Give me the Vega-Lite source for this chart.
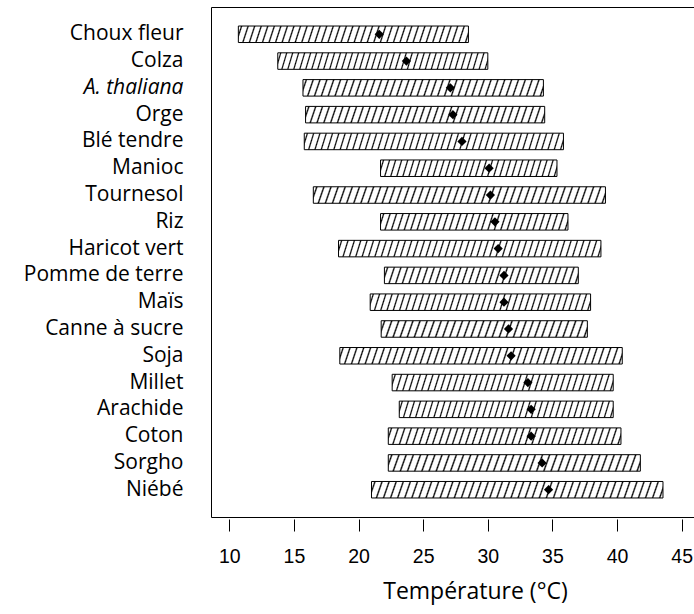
{
  "$schema": "https://vega.github.io/schema/vega-lite/v6.json",
  "width": 484,
  "height": 510,
  "autosize": "none",
  "padding": {"left": 211, "top": 7, "right": 0, "bottom": 97},
  "background": "white",
  "config": {"view": {"stroke": "black", "strokeWidth": 1}},
  "data": {"values": [
    {"crop": "Choux fleur", "lo": 10.7, "hi": 28.5, "mid": 21.6},
    {"crop": "Colza", "lo": 13.75, "hi": 30.0, "mid": 23.7},
    {"crop": "A. thaliana", "lo": 15.7, "hi": 34.3, "mid": 27.1},
    {"crop": "Orge", "lo": 15.9, "hi": 34.4, "mid": 27.3},
    {"crop": "Blé tendre", "lo": 15.8, "hi": 35.85, "mid": 28.0},
    {"crop": "Manioc", "lo": 21.7, "hi": 35.35, "mid": 30.1},
    {"crop": "Tournesol", "lo": 16.5, "hi": 39.1, "mid": 30.2},
    {"crop": "Riz", "lo": 21.7, "hi": 36.2, "mid": 30.55},
    {"crop": "Haricot vert", "lo": 18.45, "hi": 38.75, "mid": 30.8},
    {"crop": "Pomme de terre", "lo": 22.0, "hi": 37.0, "mid": 31.25},
    {"crop": "Maïs", "lo": 20.9, "hi": 37.95, "mid": 31.25},
    {"crop": "Canne à sucre", "lo": 21.75, "hi": 37.7, "mid": 31.6},
    {"crop": "Soja", "lo": 18.55, "hi": 40.4, "mid": 31.8},
    {"crop": "Millet", "lo": 22.6, "hi": 39.7, "mid": 33.1},
    {"crop": "Arachide", "lo": 23.15, "hi": 39.7, "mid": 33.35},
    {"crop": "Coton", "lo": 22.3, "hi": 40.3, "mid": 33.35},
    {"crop": "Sorgho", "lo": 22.3, "hi": 41.8, "mid": 34.2},
    {"crop": "Niébé", "lo": 21.0, "hi": 43.55, "mid": 34.7}
  ]},
  "encoding": {
    "y": {
      "field": "crop", "type": "nominal", "sort": null,
      "scale": {"paddingInner": 0.384, "paddingOuter": 0.71},
      "axis": {
        "title": null, "domain": false, "ticks": false, "tickSize": 0,
        "labelPadding": 28, "labelFont": "Open Sans", "labelFontSize": 21,
        "labelColor": "black", "labelLimit": 300,
        "labelFontStyle": {"condition": {"test": "datum.value === 'A. thaliana'", "value": "italic"}, "value": "normal"}
      }
    }
  },
  "layer": [
    {
      "mark": {"type": "bar", "stroke": "black", "strokeWidth": 1},
      "encoding": {
        "x": {
          "field": "lo", "type": "quantitative",
          "scale": {"domain": [8.584, 46.028], "nice": false, "zero": false},
          "axis": {
            "title": "Température (°C)", "values": [10, 15, 20, 25, 30, 35, 40, 45],
            "domain": false, "grid": false, "offset": 2,
            "tickSize": 12, "tickColor": "black", "tickWidth": 1,
            "labelFont": "Liberation Sans", "labelFontSize": 19.5, "labelColor": "black",
            "labelPadding": 16, "labelFlush": false, "labelOverlap": false,
            "titleFont": "Open Sans", "titleFontSize": 23, "titleFontWeight": "normal",
            "titleColor": "black", "titleX": 264, "titleY": 79,
            "titleBaseline": "alphabetic", "titleAlign": "center", "titleAnchor": null
          }
        },
        "x2": {"field": "hi"},
        "fill": {
          "condition": [
            {"test": "datum.hi - datum.lo < 16.1", "value": {"gradient": "linear", "x1": 0, "y1": 0, "x2": 1.029, "y2": 0.029, "stops": [
              {"offset": 0.0099, "color": "#fff"}, {"offset": 0.0167, "color": "#000"}, {"offset": 0.0235, "color": "#fff"},
              {"offset": 0.0432, "color": "#fff"}, {"offset": 0.0500, "color": "#000"}, {"offset": 0.0568, "color": "#fff"},
              {"offset": 0.0765, "color": "#fff"}, {"offset": 0.0833, "color": "#000"}, {"offset": 0.0901, "color": "#fff"},
              {"offset": 0.1099, "color": "#fff"}, {"offset": 0.1167, "color": "#000"}, {"offset": 0.1235, "color": "#fff"},
              {"offset": 0.1432, "color": "#fff"}, {"offset": 0.1500, "color": "#000"}, {"offset": 0.1568, "color": "#fff"},
              {"offset": 0.1765, "color": "#fff"}, {"offset": 0.1833, "color": "#000"}, {"offset": 0.1901, "color": "#fff"},
              {"offset": 0.2099, "color": "#fff"}, {"offset": 0.2167, "color": "#000"}, {"offset": 0.2235, "color": "#fff"},
              {"offset": 0.2432, "color": "#fff"}, {"offset": 0.2500, "color": "#000"}, {"offset": 0.2568, "color": "#fff"},
              {"offset": 0.2765, "color": "#fff"}, {"offset": 0.2833, "color": "#000"}, {"offset": 0.2901, "color": "#fff"},
              {"offset": 0.3099, "color": "#fff"}, {"offset": 0.3167, "color": "#000"}, {"offset": 0.3235, "color": "#fff"},
              {"offset": 0.3432, "color": "#fff"}, {"offset": 0.3500, "color": "#000"}, {"offset": 0.3568, "color": "#fff"},
              {"offset": 0.3765, "color": "#fff"}, {"offset": 0.3833, "color": "#000"}, {"offset": 0.3901, "color": "#fff"},
              {"offset": 0.4099, "color": "#fff"}, {"offset": 0.4167, "color": "#000"}, {"offset": 0.4235, "color": "#fff"},
              {"offset": 0.4432, "color": "#fff"}, {"offset": 0.4500, "color": "#000"}, {"offset": 0.4568, "color": "#fff"},
              {"offset": 0.4765, "color": "#fff"}, {"offset": 0.4833, "color": "#000"}, {"offset": 0.4901, "color": "#fff"},
              {"offset": 0.5099, "color": "#fff"}, {"offset": 0.5167, "color": "#000"}, {"offset": 0.5235, "color": "#fff"},
              {"offset": 0.5432, "color": "#fff"}, {"offset": 0.5500, "color": "#000"}, {"offset": 0.5568, "color": "#fff"},
              {"offset": 0.5765, "color": "#fff"}, {"offset": 0.5833, "color": "#000"}, {"offset": 0.5901, "color": "#fff"},
              {"offset": 0.6099, "color": "#fff"}, {"offset": 0.6167, "color": "#000"}, {"offset": 0.6235, "color": "#fff"},
              {"offset": 0.6432, "color": "#fff"}, {"offset": 0.6500, "color": "#000"}, {"offset": 0.6568, "color": "#fff"},
              {"offset": 0.6765, "color": "#fff"}, {"offset": 0.6833, "color": "#000"}, {"offset": 0.6901, "color": "#fff"},
              {"offset": 0.7099, "color": "#fff"}, {"offset": 0.7167, "color": "#000"}, {"offset": 0.7235, "color": "#fff"},
              {"offset": 0.7432, "color": "#fff"}, {"offset": 0.7500, "color": "#000"}, {"offset": 0.7568, "color": "#fff"},
              {"offset": 0.7765, "color": "#fff"}, {"offset": 0.7833, "color": "#000"}, {"offset": 0.7901, "color": "#fff"},
              {"offset": 0.8099, "color": "#fff"}, {"offset": 0.8167, "color": "#000"}, {"offset": 0.8235, "color": "#fff"},
              {"offset": 0.8432, "color": "#fff"}, {"offset": 0.8500, "color": "#000"}, {"offset": 0.8568, "color": "#fff"},
              {"offset": 0.8765, "color": "#fff"}, {"offset": 0.8833, "color": "#000"}, {"offset": 0.8901, "color": "#fff"},
              {"offset": 0.9099, "color": "#fff"}, {"offset": 0.9167, "color": "#000"}, {"offset": 0.9235, "color": "#fff"},
              {"offset": 0.9432, "color": "#fff"}, {"offset": 0.9500, "color": "#000"}, {"offset": 0.9568, "color": "#fff"},
              {"offset": 0.9765, "color": "#fff"}, {"offset": 0.9833, "color": "#000"}, {"offset": 0.9901, "color": "#fff"}
            ]}},
            {"test": "datum.hi - datum.lo > 19.6", "value": {"gradient": "linear", "x1": 0, "y1": 0, "x2": 1.02, "y2": 0.02, "stops": [
              {"offset": 0.0072, "color": "#fff"}, {"offset": 0.0119, "color": "#000"}, {"offset": 0.0166, "color": "#fff"},
              {"offset": 0.0310, "color": "#fff"}, {"offset": 0.0357, "color": "#000"}, {"offset": 0.0404, "color": "#fff"},
              {"offset": 0.0548, "color": "#fff"}, {"offset": 0.0595, "color": "#000"}, {"offset": 0.0642, "color": "#fff"},
              {"offset": 0.0786, "color": "#fff"}, {"offset": 0.0833, "color": "#000"}, {"offset": 0.0880, "color": "#fff"},
              {"offset": 0.1024, "color": "#fff"}, {"offset": 0.1071, "color": "#000"}, {"offset": 0.1118, "color": "#fff"},
              {"offset": 0.1262, "color": "#fff"}, {"offset": 0.1310, "color": "#000"}, {"offset": 0.1356, "color": "#fff"},
              {"offset": 0.1501, "color": "#fff"}, {"offset": 0.1548, "color": "#000"}, {"offset": 0.1595, "color": "#fff"},
              {"offset": 0.1739, "color": "#fff"}, {"offset": 0.1786, "color": "#000"}, {"offset": 0.1833, "color": "#fff"},
              {"offset": 0.1977, "color": "#fff"}, {"offset": 0.2024, "color": "#000"}, {"offset": 0.2071, "color": "#fff"},
              {"offset": 0.2215, "color": "#fff"}, {"offset": 0.2262, "color": "#000"}, {"offset": 0.2309, "color": "#fff"},
              {"offset": 0.2453, "color": "#fff"}, {"offset": 0.2500, "color": "#000"}, {"offset": 0.2547, "color": "#fff"},
              {"offset": 0.2691, "color": "#fff"}, {"offset": 0.2738, "color": "#000"}, {"offset": 0.2785, "color": "#fff"},
              {"offset": 0.2929, "color": "#fff"}, {"offset": 0.2976, "color": "#000"}, {"offset": 0.3023, "color": "#fff"},
              {"offset": 0.3167, "color": "#fff"}, {"offset": 0.3214, "color": "#000"}, {"offset": 0.3261, "color": "#fff"},
              {"offset": 0.3405, "color": "#fff"}, {"offset": 0.3452, "color": "#000"}, {"offset": 0.3499, "color": "#fff"},
              {"offset": 0.3644, "color": "#fff"}, {"offset": 0.3690, "color": "#000"}, {"offset": 0.3738, "color": "#fff"},
              {"offset": 0.3882, "color": "#fff"}, {"offset": 0.3929, "color": "#000"}, {"offset": 0.3976, "color": "#fff"},
              {"offset": 0.4120, "color": "#fff"}, {"offset": 0.4167, "color": "#000"}, {"offset": 0.4214, "color": "#fff"},
              {"offset": 0.4358, "color": "#fff"}, {"offset": 0.4405, "color": "#000"}, {"offset": 0.4452, "color": "#fff"},
              {"offset": 0.4596, "color": "#fff"}, {"offset": 0.4643, "color": "#000"}, {"offset": 0.4690, "color": "#fff"},
              {"offset": 0.4834, "color": "#fff"}, {"offset": 0.4881, "color": "#000"}, {"offset": 0.4928, "color": "#fff"},
              {"offset": 0.5072, "color": "#fff"}, {"offset": 0.5119, "color": "#000"}, {"offset": 0.5166, "color": "#fff"},
              {"offset": 0.5310, "color": "#fff"}, {"offset": 0.5357, "color": "#000"}, {"offset": 0.5404, "color": "#fff"},
              {"offset": 0.5548, "color": "#fff"}, {"offset": 0.5595, "color": "#000"}, {"offset": 0.5642, "color": "#fff"},
              {"offset": 0.5786, "color": "#fff"}, {"offset": 0.5833, "color": "#000"}, {"offset": 0.5880, "color": "#fff"},
              {"offset": 0.6024, "color": "#fff"}, {"offset": 0.6071, "color": "#000"}, {"offset": 0.6118, "color": "#fff"},
              {"offset": 0.6262, "color": "#fff"}, {"offset": 0.6310, "color": "#000"}, {"offset": 0.6356, "color": "#fff"},
              {"offset": 0.6501, "color": "#fff"}, {"offset": 0.6548, "color": "#000"}, {"offset": 0.6595, "color": "#fff"},
              {"offset": 0.6739, "color": "#fff"}, {"offset": 0.6786, "color": "#000"}, {"offset": 0.6833, "color": "#fff"},
              {"offset": 0.6977, "color": "#fff"}, {"offset": 0.7024, "color": "#000"}, {"offset": 0.7071, "color": "#fff"},
              {"offset": 0.7215, "color": "#fff"}, {"offset": 0.7262, "color": "#000"}, {"offset": 0.7309, "color": "#fff"},
              {"offset": 0.7453, "color": "#fff"}, {"offset": 0.7500, "color": "#000"}, {"offset": 0.7547, "color": "#fff"},
              {"offset": 0.7691, "color": "#fff"}, {"offset": 0.7738, "color": "#000"}, {"offset": 0.7785, "color": "#fff"},
              {"offset": 0.7929, "color": "#fff"}, {"offset": 0.7976, "color": "#000"}, {"offset": 0.8023, "color": "#fff"},
              {"offset": 0.8167, "color": "#fff"}, {"offset": 0.8214, "color": "#000"}, {"offset": 0.8261, "color": "#fff"},
              {"offset": 0.8405, "color": "#fff"}, {"offset": 0.8452, "color": "#000"}, {"offset": 0.8499, "color": "#fff"},
              {"offset": 0.8644, "color": "#fff"}, {"offset": 0.8690, "color": "#000"}, {"offset": 0.8738, "color": "#fff"},
              {"offset": 0.8882, "color": "#fff"}, {"offset": 0.8929, "color": "#000"}, {"offset": 0.8976, "color": "#fff"},
              {"offset": 0.9120, "color": "#fff"}, {"offset": 0.9167, "color": "#000"}, {"offset": 0.9214, "color": "#fff"},
              {"offset": 0.9358, "color": "#fff"}, {"offset": 0.9405, "color": "#000"}, {"offset": 0.9452, "color": "#fff"},
              {"offset": 0.9596, "color": "#fff"}, {"offset": 0.9643, "color": "#000"}, {"offset": 0.9690, "color": "#fff"},
              {"offset": 0.9834, "color": "#fff"}, {"offset": 0.9881, "color": "#000"}, {"offset": 0.9928, "color": "#fff"}
            ]}}
          ],
          "value": {"gradient": "linear", "x1": 0, "y1": 0, "x2": 1.024, "y2": 0.024, "stops": [
            {"offset": 0.0083, "color": "#fff"}, {"offset": 0.0139, "color": "#000"}, {"offset": 0.0195, "color": "#fff"},
            {"offset": 0.0361, "color": "#fff"}, {"offset": 0.0417, "color": "#000"}, {"offset": 0.0473, "color": "#fff"},
            {"offset": 0.0638, "color": "#fff"}, {"offset": 0.0694, "color": "#000"}, {"offset": 0.0750, "color": "#fff"},
            {"offset": 0.0916, "color": "#fff"}, {"offset": 0.0972, "color": "#000"}, {"offset": 0.1028, "color": "#fff"},
            {"offset": 0.1194, "color": "#fff"}, {"offset": 0.1250, "color": "#000"}, {"offset": 0.1306, "color": "#fff"},
            {"offset": 0.1472, "color": "#fff"}, {"offset": 0.1528, "color": "#000"}, {"offset": 0.1584, "color": "#fff"},
            {"offset": 0.1750, "color": "#fff"}, {"offset": 0.1806, "color": "#000"}, {"offset": 0.1862, "color": "#fff"},
            {"offset": 0.2027, "color": "#fff"}, {"offset": 0.2083, "color": "#000"}, {"offset": 0.2139, "color": "#fff"},
            {"offset": 0.2305, "color": "#fff"}, {"offset": 0.2361, "color": "#000"}, {"offset": 0.2417, "color": "#fff"},
            {"offset": 0.2583, "color": "#fff"}, {"offset": 0.2639, "color": "#000"}, {"offset": 0.2695, "color": "#fff"},
            {"offset": 0.2861, "color": "#fff"}, {"offset": 0.2917, "color": "#000"}, {"offset": 0.2973, "color": "#fff"},
            {"offset": 0.3138, "color": "#fff"}, {"offset": 0.3194, "color": "#000"}, {"offset": 0.3250, "color": "#fff"},
            {"offset": 0.3416, "color": "#fff"}, {"offset": 0.3472, "color": "#000"}, {"offset": 0.3528, "color": "#fff"},
            {"offset": 0.3694, "color": "#fff"}, {"offset": 0.3750, "color": "#000"}, {"offset": 0.3806, "color": "#fff"},
            {"offset": 0.3972, "color": "#fff"}, {"offset": 0.4028, "color": "#000"}, {"offset": 0.4084, "color": "#fff"},
            {"offset": 0.4250, "color": "#fff"}, {"offset": 0.4306, "color": "#000"}, {"offset": 0.4362, "color": "#fff"},
            {"offset": 0.4527, "color": "#fff"}, {"offset": 0.4583, "color": "#000"}, {"offset": 0.4639, "color": "#fff"},
            {"offset": 0.4805, "color": "#fff"}, {"offset": 0.4861, "color": "#000"}, {"offset": 0.4917, "color": "#fff"},
            {"offset": 0.5083, "color": "#fff"}, {"offset": 0.5139, "color": "#000"}, {"offset": 0.5195, "color": "#fff"},
            {"offset": 0.5361, "color": "#fff"}, {"offset": 0.5417, "color": "#000"}, {"offset": 0.5473, "color": "#fff"},
            {"offset": 0.5638, "color": "#fff"}, {"offset": 0.5694, "color": "#000"}, {"offset": 0.5750, "color": "#fff"},
            {"offset": 0.5916, "color": "#fff"}, {"offset": 0.5972, "color": "#000"}, {"offset": 0.6028, "color": "#fff"},
            {"offset": 0.6194, "color": "#fff"}, {"offset": 0.6250, "color": "#000"}, {"offset": 0.6306, "color": "#fff"},
            {"offset": 0.6472, "color": "#fff"}, {"offset": 0.6528, "color": "#000"}, {"offset": 0.6584, "color": "#fff"},
            {"offset": 0.6750, "color": "#fff"}, {"offset": 0.6806, "color": "#000"}, {"offset": 0.6862, "color": "#fff"},
            {"offset": 0.7027, "color": "#fff"}, {"offset": 0.7083, "color": "#000"}, {"offset": 0.7139, "color": "#fff"},
            {"offset": 0.7305, "color": "#fff"}, {"offset": 0.7361, "color": "#000"}, {"offset": 0.7417, "color": "#fff"},
            {"offset": 0.7583, "color": "#fff"}, {"offset": 0.7639, "color": "#000"}, {"offset": 0.7695, "color": "#fff"},
            {"offset": 0.7861, "color": "#fff"}, {"offset": 0.7917, "color": "#000"}, {"offset": 0.7973, "color": "#fff"},
            {"offset": 0.8138, "color": "#fff"}, {"offset": 0.8194, "color": "#000"}, {"offset": 0.8250, "color": "#fff"},
            {"offset": 0.8416, "color": "#fff"}, {"offset": 0.8472, "color": "#000"}, {"offset": 0.8528, "color": "#fff"},
            {"offset": 0.8694, "color": "#fff"}, {"offset": 0.8750, "color": "#000"}, {"offset": 0.8806, "color": "#fff"},
            {"offset": 0.8972, "color": "#fff"}, {"offset": 0.9028, "color": "#000"}, {"offset": 0.9084, "color": "#fff"},
            {"offset": 0.9250, "color": "#fff"}, {"offset": 0.9306, "color": "#000"}, {"offset": 0.9362, "color": "#fff"},
            {"offset": 0.9527, "color": "#fff"}, {"offset": 0.9583, "color": "#000"}, {"offset": 0.9639, "color": "#fff"},
            {"offset": 0.9805, "color": "#fff"}, {"offset": 0.9861, "color": "#000"}, {"offset": 0.9917, "color": "#fff"}
          ]}
        }
      }
    },
    {
      "mark": {"type": "point", "shape": "diamond", "filled": true, "color": "black", "size": 85, "opacity": 1},
      "encoding": {"x": {"field": "mid", "type": "quantitative"}}
    }
  ]
}
